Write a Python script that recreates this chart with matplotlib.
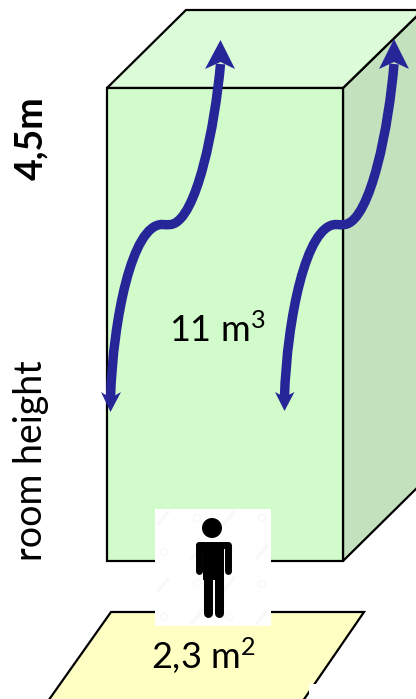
import matplotlib.pyplot as plt
from matplotlib.patches import Polygon, Circle, Rectangle, PathPatch
from matplotlib.path import Path

plt.rcParams['font.family'] = ['Lato', 'DejaVu Sans']
plt.rcParams['mathtext.fontset'] = 'custom'
plt.rcParams['mathtext.rm'] = 'Lato'
plt.rcParams['mathtext.default'] = 'rm'

# Все координаты в пикселях картинки
front_face = [(107, 88), (343, 88), (343, 561), (107, 561)]
top_face = [(107, 88), (186, 10), (423, 10), (343, 88)]
side_face = [(343, 88), (423, 10), (423, 482), (343, 561)]
floor = [(111, 612), (364, 612), (296, 711), (41, 711)]

arrow_color = '#262699'
# Стрелки: начало и контрольные точки кривых Безье
arrow_paths = [
    [(220.5, 64), (215, 125), (197, 220), (171, 224.5),
     (168, 225), (165, 224.5), (162, 224.5),
     (132, 224.5), (113, 320), (110.5, 398)],
    [(394, 64), (389, 125), (371, 220), (345, 224.5),
     (342, 225), (339, 224.5), (336, 224.5),
     (306, 224.5), (287, 320), (284.5, 397)],
]
arrow_heads = [
    [(220.5, 40), (235, 69), (220.5, 62), (205, 69)],
    [(394, 39), (409, 69), (394, 62), (379, 69)],
    [(110.5, 412), (121, 392), (110.5, 398), (101, 392)],
    [(284.5, 411), (294.5, 392), (284.5, 397), (275, 392)],
]

# Водяные знаки на картинке с человеком
mark_dashes = [(163, 518), (229, 518), (197, 552), (262, 552), (163, 585), (229, 584), (197, 617), (262, 617)]
mark_rings = [(197, 518), (262, 518), (164, 552), (229, 551), (197, 583), (262, 584), (164, 617), (229, 617)]

fig = plt.figure(figsize=(4.16, 6.99), dpi=100)
ax = fig.add_axes([0, 0, 1, 1])
ax.set_xlim(0, 416)
ax.set_ylim(699, 0)
ax.axis('off')

ax.add_patch(Polygon(floor, facecolor='#FFFFC3', edgecolor='black', linewidth=1.6, joinstyle='miter'))
ax.add_patch(Rectangle((309, 684), 12, 12, facecolor='white', edgecolor='none'))
ax.add_patch(Polygon(side_face, facecolor='#C3E1BD', edgecolor='black', linewidth=1.6))
ax.add_patch(Polygon(top_face, facecolor='#DCFBD8', edgecolor='black', linewidth=1.6))
ax.add_patch(Polygon(front_face, facecolor='#D1FBCA', edgecolor='black', linewidth=1.6))

# Поток воздуха
for pts in arrow_paths:
    codes = [Path.MOVETO] + [Path.CURVE4] * (len(pts) - 1)
    ax.add_patch(PathPatch(Path(pts, codes), facecolor='none', edgecolor=arrow_color,
                           linewidth=6.8, capstyle='butt'))
for head in arrow_heads:
    ax.add_patch(Polygon(head, facecolor=arrow_color, edgecolor='none'))

# Человек на белом квадрате
ax.add_patch(Rectangle((155, 509), 116, 117, facecolor='white', edgecolor='none', zorder=3))
for x, y in mark_dashes:
    ax.plot([x - 5, x + 5], [y + 6, y - 6], color='#F8F8F8', linewidth=2.2, zorder=3.5)
for x, y in mark_rings:
    ax.add_patch(Circle((x, y), 3.5, facecolor='none', edgecolor='#F8F8F8', linewidth=1.0, zorder=3.5))

ax.add_patch(Circle((212, 528), 10, facecolor='black', edgecolor='none', zorder=4))
ax.plot([198.5, 198.5], [545, 570.5], color='black', linewidth=5.0, solid_capstyle='round', zorder=4)
ax.plot([227.5, 227.5], [545, 570.5], color='black', linewidth=5.0, solid_capstyle='round', zorder=4)
ax.plot([199, 227], [544.5, 544.5], color='black', linewidth=5.0, solid_capstyle='round', zorder=4)
ax.add_patch(Rectangle((203, 544), 20.5, 36, facecolor='black', edgecolor='none', zorder=4))
ax.plot([207.5, 207.5], [575, 612.5], color='black', linewidth=6.5, solid_capstyle='round', zorder=4)
ax.plot([218.5, 218.5], [575, 612.5], color='black', linewidth=6.5, solid_capstyle='round', zorder=4)

ax.text(217, 330, '11 m$^3$', fontsize=26, ha='center', va='center', color='black', zorder=5)
ax.text(203, 656, '2,3 m$^2$', fontsize=26, ha='center', va='center', color='black', zorder=5)
ax.text(31, 138, '4,5m', fontsize=27, fontweight='bold', rotation=90, ha='center', va='center')
ax.text(31, 461, 'room height', fontsize=27, rotation=90, ha='center', va='center')

fig.savefig('out.png', dpi=100)
